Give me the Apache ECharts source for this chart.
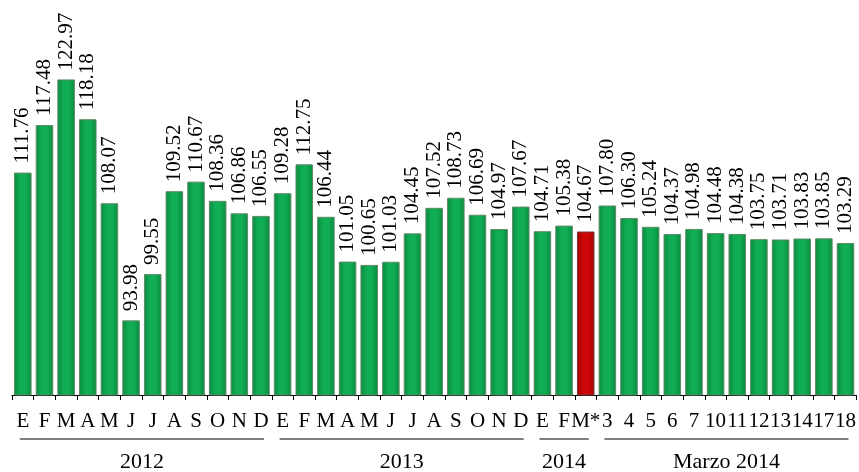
<!DOCTYPE html>
<html>
<head>
<meta charset="utf-8">
<script src="https://cdn.jsdelivr.net/npm/echarts@6/dist/echarts.min.js"></script>
<style>
  html, body { margin: 0; padding: 0; background: #fff; }
  #chart { width: 859px; height: 472px; }
</style>
</head>
<body>
<div id="chart"></div>
<script>
// Monthly values 2012-2013, first months of 2014 and daily values for March 2014
const months2012 = ['E', 'F', 'M', 'A', 'M', 'J', 'J', 'A', 'S', 'O', 'N', 'D'];
const months2013 = ['E', 'F', 'M', 'A', 'M', 'J', 'J', 'A', 'S', 'O', 'N', 'D'];
const months2014 = ['E', 'F', 'M*'];
const daysMarch = ['3', '4', '5', '6', '7', '10', '11', '12', '13', '14', '17', '18'];

const values2012 = [111.76, 117.48, 122.97, 118.18, 108.07, 93.98, 99.55, 109.52, 110.67, 108.36, 106.86, 106.55];
const values2013 = [109.28, 112.75, 106.44, 101.05, 100.65, 101.03, 104.45, 107.52, 108.73, 106.69, 104.97, 107.67];
const values2014 = [104.71, 105.38, 104.67];
const valuesMarch = [107.80, 106.30, 105.24, 104.37, 104.98, 104.48, 104.38, 103.75, 103.71, 103.83, 103.85, 103.29];

const groupLabels = ['2012', '2013', '2014', 'Marzo 2014'];
const highlightCategory = 'M*';

const groups = [
  { label: groupLabels[0], cats: months2012, vals: values2012 },
  { label: groupLabels[1], cats: months2013, vals: values2013 },
  { label: groupLabels[2], cats: months2014, vals: values2014 },
  { label: groupLabels[3], cats: daysMarch, vals: valuesMarch }
];

const categories = [];
const values = [];
groups.forEach(g => {
  g.start = categories.length;
  g.cats.forEach((c, i) => { categories.push(c); values.push(g.vals[i]); });
  g.end = categories.length - 1;
});

const FONT = '"Liberation Serif", "Times New Roman", serif';

function barFill(dark, light) {
  return new echarts.graphic.LinearGradient(0, 0, 1, 0, [
    { offset: 0, color: dark },
    { offset: 0.35, color: light },
    { offset: 0.65, color: light },
    { offset: 1, color: dark }
  ]);
}
const greenFill = barFill('#0a8a3e', '#10ad55');
const redFill = barFill('#a30000', '#cc0808');

const seriesData = values.map((v, i) => {
  const isRed = categories[i] === highlightCategory && i >= groups[2].start && i <= groups[2].end;
  return {
    value: v,
    itemStyle: {
      color: isRed ? redFill : greenFill,
      borderColor: isRed ? '#7a3a3a' : '#5f8a66',
      borderWidth: 1
    }
  };
});

const chart = echarts.init(document.getElementById('chart'), null, { renderer: 'canvas' });

chart.setOption({
  animation: false,
  backgroundColor: '#ffffff',
  grid: { left: 12, right: 2, top: 21, bottom: 77, containLabel: false },
  xAxis: {
    type: 'category',
    data: categories,
    boundaryGap: true,
    axisLine: { show: true, lineStyle: { color: '#000', width: 1 } },
    axisTick: { show: true, length: 5, lineStyle: { color: '#000' } },
    axisLabel: {
      interval: 0,
      margin: 16,
      color: '#000',
      fontFamily: FONT,
      fontSize: 21
    }
  },
  yAxis: {
    type: 'value',
    min: 85,
    max: 130,
    show: false,
    splitLine: { show: false }
  },
  series: [{
    type: 'bar',
    data: seriesData,
    barCategoryGap: '19%',
    label: {
      show: true,
      position: 'top',
      rotate: 90,
      align: 'left',
      verticalAlign: 'middle',
      distance: 9,
      color: '#000',
      fontFamily: FONT,
      fontSize: 21,
      formatter: p => p.value.toFixed(2)
    }
  }]
});

// Group brackets under the category labels, positioned from the axis scale
const axisY = chart.convertToPixel({ yAxisIndex: 0 }, 85);
const lineY = axisY + 44;
const textY = axisY + 56;
const graphics = [];
groups.forEach(g => {
  const x1 = chart.convertToPixel({ xAxisIndex: 0 }, g.start) - 3;
  const x2 = chart.convertToPixel({ xAxisIndex: 0 }, g.end) + 3;
  graphics.push({
    type: 'line',
    shape: { x1: x1, y1: lineY, x2: x2, y2: lineY },
    style: { stroke: '#000', lineWidth: 1.2 }
  });
  graphics.push({
    type: 'text',
    x: (x1 + x2) / 2,
    y: textY,
    style: {
      text: g.label,
      fill: '#000',
      font: '22px ' + FONT,
      textAlign: 'center',
      textVerticalAlign: 'top'
    }
  });
});
chart.setOption({ graphic: graphics });
</script>
</body>
</html>
